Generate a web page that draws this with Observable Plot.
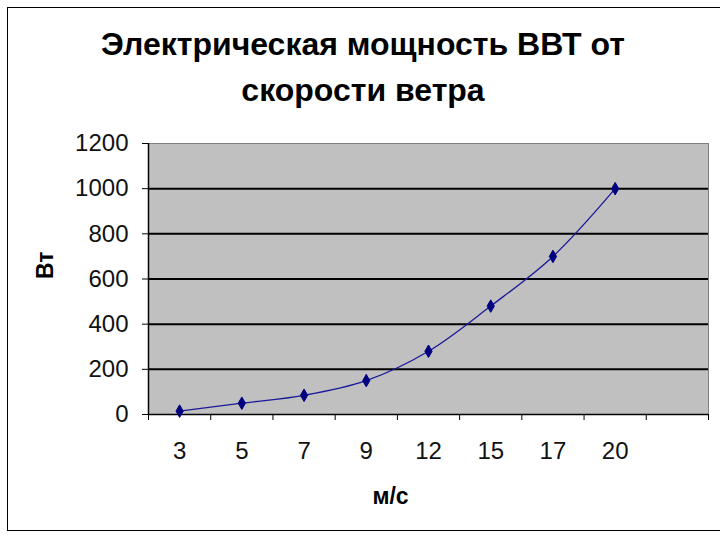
<!DOCTYPE html>
<html>
<head>
<meta charset="utf-8">
<script src="https://cdn.jsdelivr.net/npm/d3@7"></script>
<script src="https://cdn.jsdelivr.net/npm/@observablehq/plot@0.6"></script>
<style>
  html, body { margin: 0; padding: 0; background: #fff; }
  #wrap { position: relative; width: 720px; height: 540px; overflow: hidden; font-family: "Liberation Sans", Arial, sans-serif; }
  #border { position: absolute; left: 7px; top: 7px; width: 730px; height: 524px; border: 1.5px solid #000; box-sizing: border-box; }
  #title { position: absolute; left: 0; top: 21px; width: 726px; text-align: center; font-weight: bold; font-size: 32px; line-height: 46px; color: #000; }
  #chart { position: absolute; left: 0; top: 0; }
</style>
</head>
<body>
<div id="wrap">
  <div id="border"></div>
  <div id="title">Электрическая мощность ВВТ от<br>скорости ветра</div>
  <div id="chart"></div>
</div>
<script>
const categories = ["3", "5", "7", "9", "12", "15", "17", "20"];
const power = [15, 50, 85, 150, 280, 480, 700, 1000];
const yTicks = [0, 200, 400, 600, 800, 1000, 1200];
const gridValues = [200, 400, 600, 800, 1000];
const xLabel = "м/с";
const yLabel = "Вт";

const data = categories.map((c, i) => ({cat: c, idx: i, value: power[i]}));
const nBands = categories.length + 1;
const bandEdges = d3.range(nBands + 1).map(i => i - 0.5);

const plot = Plot.plot({
  width: 720,
  height: 540,
  marginTop: 143,
  marginBottom: 126,
  marginLeft: 148,
  marginRight: 12,
  style: {fontFamily: "Liberation Sans, Arial, sans-serif", background: "transparent", overflow: "visible"},
  x: {type: "linear", domain: [-0.5, nBands - 0.5]},
  y: {domain: [0, 1200]},
  marks: [
    Plot.frame({fill: "#c0c0c0", stroke: "#808080", strokeWidth: 1}),
    Plot.ruleY(gridValues, {stroke: "#000", strokeWidth: 2}),
    Plot.axisY({ticks: yTicks, tickSize: 6, tickPadding: 14, fontSize: 24, tickFormat: d => String(d), label: null, stroke: "#000", color: "#111"}),
    Plot.axisX({ticks: d3.range(categories.length), tickSize: 0, tickPadding: 27, fontSize: 24, tickFormat: i => categories[i], label: null, color: "#111"}),
    Plot.axisX({ticks: bandEdges, tickSize: 6, tickFormat: () => "", label: null, stroke: "#000"}),
    Plot.ruleY([0], {stroke: "#000", strokeWidth: 1.5}),
    Plot.ruleX([-0.5], {stroke: "#000", strokeWidth: 1.5}),
    Plot.line(data, {x: "idx", y: "value", curve: "catmull-rom", stroke: "#1a1a99", strokeWidth: 1.3}),
    Plot.dot(data, {x: "idx", y: "value", symbol: "diamond", r: 3.8, fill: "#000080", stroke: "#000080", strokeWidth: 1}),
    Plot.text([xLabel], {frameAnchor: "bottom", dy: 89, dx: -38, text: d => d, fontSize: 23, fontWeight: "bold", fill: "#000"}),
    Plot.text([yLabel], {frameAnchor: "left", dx: -103, rotate: -90, text: d => d, fontSize: 23, fontWeight: "bold", fill: "#000"})
  ]
});
document.getElementById("chart").appendChild(plot);
</script>
</body>
</html>
